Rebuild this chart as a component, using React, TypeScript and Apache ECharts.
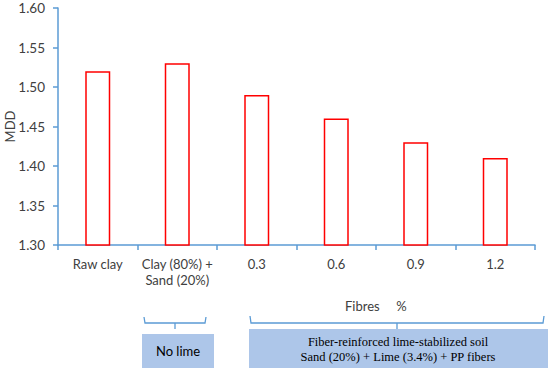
import React, { useEffect, useRef } from "react";
import * as echarts from "echarts";

const categories = ["Raw clay", "Clay (80%) +\nSand (20%)", "0.3", "0.6", "0.9", "1.2"];
const mddValues = [1.52, 1.53, 1.49, 1.46, 1.43, 1.41];
const yAxisName = "MDD";
const fibresLabel = "Fibres     %";
const noLimeLabel = "No lime";
const fiberBoxLines = ["Fiber-reinforced lime-stabilized soil", "Sand (20%) + Lime (3.4%) + PP fibers"];

const AXIS_BLUE = "#5b9bd5";
const BOX_BLUE = "#adc6e9";
const TEXT = "#404040";

export default function App() {
  const ref = useRef<HTMLDivElement>(null);
  useEffect(() => {
    if (!ref.current) return;
    const chart = echarts.init(ref.current, null, { renderer: "svg" });
    chart.setOption({
      animation: false,
      backgroundColor: "#ffffff",
      grid: { left: 58, right: 15, top: 8, bottom: 128, containLabel: false, outerBoundsMode: "none" },
      xAxis: {
        type: "category",
        data: categories,
        axisLine: { lineStyle: { color: AXIS_BLUE, width: 1.5 } },
        axisTick: { show: true, length: 5, lineStyle: { color: AXIS_BLUE, width: 1.5 } },
        axisLabel: { color: TEXT, fontSize: 13, fontFamily: "Lato", margin: 11, lineHeight: 16, interval: 0 },
      },
      yAxis: {
        type: "value",
        min: 1.3,
        max: 1.6,
        interval: 0.05,
        name: yAxisName,
        nameLocation: "middle",
        nameGap: 42,
        nameMoveOverlap: false,
        nameTextStyle: { color: TEXT, fontSize: 13, fontFamily: "Lato" },
        axisLine: { show: true, lineStyle: { color: AXIS_BLUE, width: 1.5 } },
        axisTick: { show: true, length: 5, lineStyle: { color: AXIS_BLUE, width: 1.5 } },
        splitLine: { show: false },
        axisLabel: {
          color: TEXT,
          fontSize: 13.5,
          fontFamily: "Lato",
          margin: 13,
          formatter: (v: number) => v.toFixed(2),
        },
      },
      series: [
        {
          type: "bar",
          data: mddValues,
          barWidth: 25,
          itemStyle: { color: "#ffffff", borderColor: "#ff0000", borderWidth: 1.5 },
        },
      ],
      graphic: [
        {
          type: "text",
          left: 345,
          top: 299,
          style: { text: fibresLabel, fill: TEXT, font: "13px Lato" },
        },
        {
          type: "polyline",
          shape: { points: [[144, 317], [145, 323], [175, 323], [175, 329], [175, 323], [205, 323], [206, 317]] },
          style: { stroke: AXIS_BLUE, lineWidth: 1.3, fill: null },
        },
        {
          type: "polyline",
          shape: { points: [[250, 316], [251, 323], [397, 323], [397, 329], [397, 323], [543, 323], [544, 316]] },
          style: { stroke: AXIS_BLUE, lineWidth: 1.3, fill: null },
        },
        {
          type: "rect",
          shape: { x: 142, y: 334, width: 72, height: 34 },
          style: { fill: BOX_BLUE },
        },
        {
          type: "text",
          x: 178,
          y: 351,
          style: { text: noLimeLabel, fill: "#000000", font: "13px Lato", align: "center", verticalAlign: "middle" },
        },
        {
          type: "rect",
          shape: { x: 249, y: 329, width: 299, height: 39 },
          style: { fill: BOX_BLUE },
        },
        {
          type: "text",
          x: 398,
          y: 349,
          style: {
            text: fiberBoxLines.join("\n"),
            fill: "#000000",
            font: "normal 12.5px 'Liberation Serif'",
            align: "center",
            verticalAlign: "middle",
            lineHeight: 15,
          },
        },
      ],
    });
    return () => chart.dispose();
  }, []);
  return <div ref={ref} style={{ position: "absolute", left: 0, top: 0, width: 550, height: 373 }} />;
}
